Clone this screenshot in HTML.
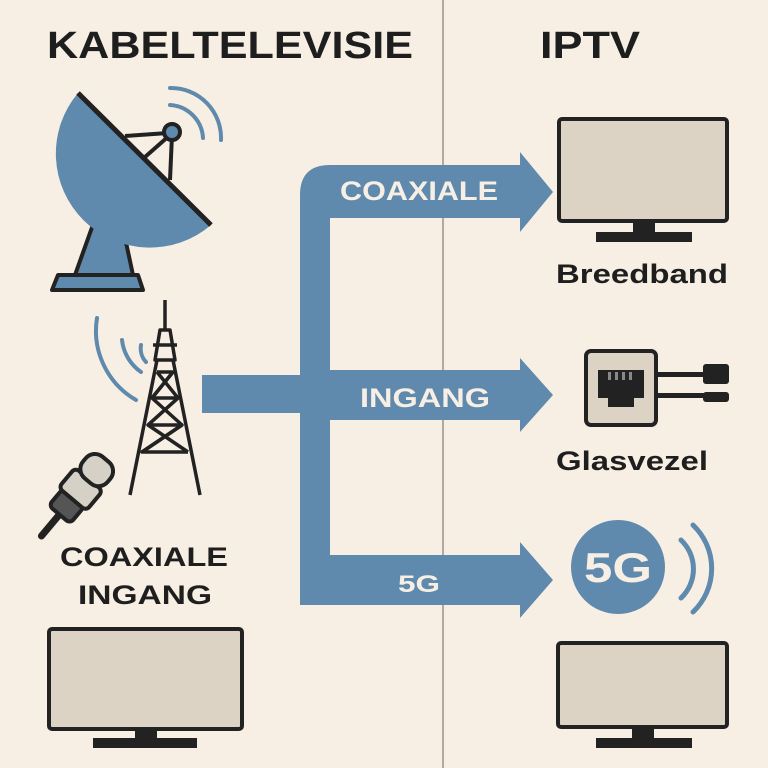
<!DOCTYPE html>
<html><head><style>body{margin:0;background:#f7efe4}svg{display:block}text{font-family:"Liberation Sans",sans-serif;font-weight:bold}</style></head>
<body>
<svg width="768" height="768" viewBox="0 0 768 768">
<rect width="768" height="768" fill="#f7efe4"/>
<line x1="443" y1="0" x2="443" y2="768" stroke="#9a948c" stroke-width="1.5"/>
<text x="47" y="58" font-size="38" fill="#1e1e1e" textLength="366" lengthAdjust="spacingAndGlyphs">KABELTELEVISIE</text>
<text x="540" y="58" font-size="38" fill="#1e1e1e" textLength="100" lengthAdjust="spacingAndGlyphs">IPTV</text>
<!-- dish -->
<g stroke="#222" stroke-width="4" stroke-linejoin="round">
<path d="M100,205 L118,205 L133,275 L75,275 Z" fill="#5f8aad"/>
<path d="M58,275 L138,275 L143,290 L52,290 Z" fill="#5f8aad"/>
<circle cx="97" cy="168" r="18" fill="#2a2a2a"/>
<path d="M78,93 A94,94 0 0 0 211,225 Z" fill="#5f8aad" stroke="none"/>
<line x1="78" y1="93" x2="211" y2="225" stroke-width="5"/>
<line x1="125" y1="136" x2="168" y2="133"/>
<line x1="145" y1="157" x2="170" y2="135"/>
<line x1="172" y1="135" x2="170" y2="180"/>
<circle cx="172" cy="132" r="8" fill="#5f8aad"/>
</g>
<g fill="none" stroke="#5f8aad" stroke-width="4" stroke-linecap="round">
<path d="M170,88 A50,50 0 0 1 221,140"/>
<path d="M170,105 A35,35 0 0 1 203,138"/>
</g>
<!-- tower -->
<g stroke="#222" stroke-width="3.5" fill="none" stroke-linejoin="round">
<line x1="165" y1="300" x2="165" y2="330"/>
<path d="M160,330 L170,330 L175,360 L155,360 Z"/>
<line x1="153" y1="345" x2="177" y2="345"/>
<path d="M157,360 L130,495 M173,360 L200,495"/>
<path d="M157,372 L173,372 L152,398 L178,398 L148,425 L182,425 L142,452 L188,452"/>
<path d="M157,372 L178,398 M173,372 L152,398 M152,398 L182,425 M178,398 L148,425 M148,425 L188,452 M182,425 L142,452"/>
</g>
<g fill="none" stroke="#5f8aad" stroke-width="4" stroke-linecap="round">
<path d="M97,318 A80,80 0 0 0 136,400"/>
<path d="M122,340 A45,45 0 0 0 141,372"/>
<path d="M141,345 A20,20 0 0 0 146,362"/>
</g>
<!-- connector -->
<g transform="rotate(-50 80 490)">
<line x1="20" y1="490" x2="50" y2="490" stroke="#222" stroke-width="7" stroke-linecap="round"/>
<rect x="48" y="476" width="22" height="28" rx="5" fill="#555" stroke="#222" stroke-width="4"/>
<rect x="68" y="472" width="26" height="36" rx="5" fill="#d6d1c6" stroke="#222" stroke-width="4"/>
<rect x="92" y="474" width="28" height="32" rx="12" fill="#d6d1c6" stroke="#222" stroke-width="4"/>
</g>
<text x="144" y="566" font-size="27" fill="#1e1e1e" text-anchor="middle" textLength="168" lengthAdjust="spacingAndGlyphs">COAXIALE</text>
<text x="145" y="604" font-size="27" fill="#1e1e1e" text-anchor="middle" textLength="134" lengthAdjust="spacingAndGlyphs">INGANG</text>
<!-- arrows -->
<g fill="#5f8aad">
<rect x="202" y="375" width="110" height="38"/>
<path d="M300,605 L300,195 Q300,165 330,165 L520,165 L520,152 L553,192 L520,232 L520,218 L330,218 L330,605 Z"/>
<path d="M300,370 L520,370 L520,358 L553,395 L520,432 L520,420 L300,420 Z"/>
<path d="M300,560 L300,580 Q300,605 325,605 L520,605 L520,618 L553,580 L520,542 L520,555 L330,555 Z"/>
</g>
<text x="340" y="200" font-size="27" fill="#f7efe4" textLength="158" lengthAdjust="spacingAndGlyphs">COAXIALE</text>
<text x="360" y="407" font-size="27" fill="#f7efe4" textLength="130" lengthAdjust="spacingAndGlyphs">INGANG</text>
<text x="398" y="592" font-size="24" fill="#f7efe4" textLength="42" lengthAdjust="spacingAndGlyphs">5G</text>
<!-- monitors -->
<g stroke="#222" stroke-width="4">
<rect x="559" y="119" width="168" height="102" rx="3" fill="#dcd3c5"/>
<rect x="635" y="221" width="18" height="14" fill="#222"/>
<rect x="598" y="234" width="92" height="6" fill="#222"/>
<rect x="49" y="629" width="193" height="100" rx="3" fill="#dcd3c5"/>
<rect x="137" y="729" width="18" height="12" fill="#222"/>
<rect x="95" y="740" width="100" height="6" fill="#222"/>
<rect x="558" y="643" width="169" height="84" rx="3" fill="#dcd3c5"/>
<rect x="634" y="727" width="18" height="14" fill="#222"/>
<rect x="598" y="740" width="92" height="6" fill="#222"/>
</g>
<text x="556" y="283" font-size="27" fill="#1e1e1e" textLength="172" lengthAdjust="spacingAndGlyphs">Breedband</text>
<!-- ethernet -->
<rect x="586" y="351" width="70" height="74" rx="5" fill="#dcd3c5" stroke="#222" stroke-width="4"/>
<path d="M598,370 L644,370 L644,398 L634,398 L634,407 L608,407 L608,398 L598,398 Z" fill="#222"/>
<g fill="#888"><rect x="608" y="372" width="3" height="8"/><rect x="615" y="372" width="3" height="8"/><rect x="622" y="372" width="3" height="8"/><rect x="629" y="372" width="3" height="8"/></g>
<g fill="#222"><rect x="656" y="372" width="50" height="5"/><rect x="656" y="393" width="50" height="5"/><rect x="703" y="364" width="26" height="20" rx="3"/><rect x="703" y="392" width="26" height="10" rx="3"/></g>
<text x="556" y="470" font-size="27" fill="#1e1e1e" textLength="152" lengthAdjust="spacingAndGlyphs">Glasvezel</text>
<!-- 5G -->
<circle cx="618" cy="567" r="47" fill="#5f8aad"/>
<text x="618" y="582" font-size="42" fill="#f7efe4" text-anchor="middle" textLength="68" lengthAdjust="spacingAndGlyphs">5G</text>
<g fill="none" stroke="#5f8aad" stroke-width="5" stroke-linecap="round">
<path d="M681,540 A40,40 0 0 1 681,598"/>
<path d="M693,525 A60,60 0 0 1 693,612"/>
</g>
</svg>
</body></html>
